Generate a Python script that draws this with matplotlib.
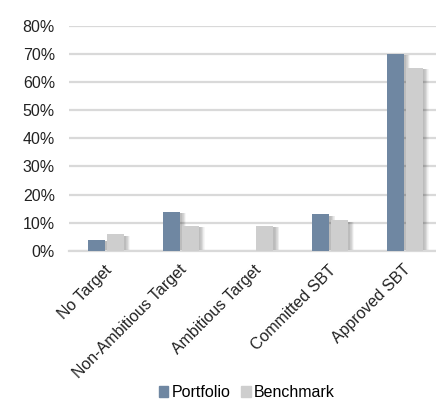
import numpy as np
import matplotlib.pyplot as plt
from matplotlib.patches import Patch
from matplotlib.transforms import ScaledTranslation

plt.rcParams['font.family'] = ['Liberation Sans', 'DejaVu Sans']

categories = ['No Target', 'Non-Ambitious Target', 'Ambitious Target',
              'Committed SBT', 'Approved SBT']
portfolio = [0.04, 0.14, 0.00, 0.13, 0.70]
benchmark = [0.06, 0.09, 0.09, 0.11, 0.65]
yticks = [0, 0.1, 0.2, 0.3, 0.4, 0.5, 0.6, 0.7, 0.8]

port_color = '#6f87a2'
bench_color = '#cecece'
grid_color = '#d9d9d9'

fig = plt.figure(figsize=(4.36, 3.99), dpi=100)
ax = fig.add_axes([0.158, 0.371, 0.856, 0.565])

x = np.arange(len(categories))
w = 0.23
off = 0.125

# soft drop shadow: stack of faint bars shifted to the right
for k in range(1, 9):
    dx = 0.008 * k
    for xs, vals in ((x - off, portfolio), (x + off, benchmark)):
        ax.bar(xs + dx + 0.015, np.array(vals) - 0.006, width=w, color='black',
               alpha=0.035, linewidth=0, zorder=2)

ax.bar(x - off, portfolio, width=w, color=port_color, linewidth=0, zorder=3)
ax.bar(x + off, benchmark, width=w, color=bench_color, linewidth=0, zorder=3)

ax.set_xlim(-0.5, len(categories) - 0.5)
ax.set_ylim(0, 0.8)
ax.set_yticks(yticks)
ax.set_yticklabels([f'{int(round(t * 100))}%' for t in yticks], fontsize=11.5,
                   color='#222222')
ax.yaxis.grid(True, color=grid_color, linewidth=1.6, zorder=0)
ax.set_axisbelow(True)
for s in ['top', 'right', 'left']:
    ax.spines[s].set_visible(False)
ax.spines['bottom'].set_color(grid_color)
ax.spines['bottom'].set_linewidth(1.6)
ax.tick_params(axis='y', length=0, pad=10)
ax.tick_params(axis='x', length=0, pad=12)
ax.set_xticks(x)
ax.set_xticklabels(categories, rotation=45, ha='right', va='center',
                   rotation_mode='anchor', fontsize=11.5, color='#222222')
shift = ScaledTranslation(3 / 100, 0, fig.dpi_scale_trans)
for lab in ax.get_xticklabels():
    lab.set_transform(lab.get_transform() + shift)

handles = [Patch(color=port_color, label='Portfolio'),
           Patch(color=bench_color, label='Benchmark')]
fig.legend(handles=handles, loc='center', bbox_to_anchor=(0.566, 0.016),
           ncol=2, frameon=False, fontsize=11.5, handlelength=0.6,
           handleheight=0.6, handletextpad=0.2, columnspacing=0.7,
           borderpad=0.0)

fig.savefig('out.png', dpi=100)
